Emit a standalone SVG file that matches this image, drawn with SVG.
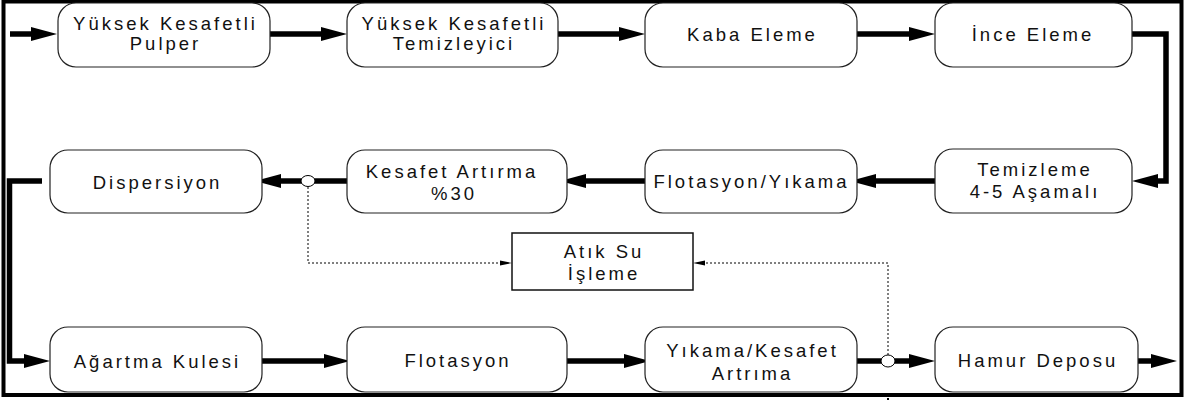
<svg xmlns="http://www.w3.org/2000/svg" width="1188" height="403" viewBox="0 0 1188 403">
<style>
.box{fill:#fff;stroke:#222;stroke-width:1.2}
.sq{fill:#fff;stroke:#111;stroke-width:1.5}
text{font-family:"Liberation Sans",Arial,sans-serif;font-size:18.5px;letter-spacing:3px;fill:#111;text-anchor:middle}
.thick{fill:none;stroke:#000;stroke-width:5.5}
.dot{fill:none;stroke:#000;stroke-width:1;stroke-dasharray:2 2}
.junc{fill:#fff;stroke:#000;stroke-width:1}
</style>
<defs>
<marker id="ah" markerUnits="userSpaceOnUse" markerWidth="26" markerHeight="14" refX="2" refY="7" orient="auto" overflow="visible"><path d="M0,0 L26,7 L0,14 z" fill="#000"/></marker>
<marker id="sh" markerUnits="userSpaceOnUse" markerWidth="12" markerHeight="5" refX="1" refY="2.5" orient="auto" overflow="visible"><path d="M0,0 L12,2.5 L0,5 z" fill="#000"/></marker>
</defs>
<rect x="3.5" y="1.5" width="1178" height="393.5" fill="none" stroke="#000" stroke-width="4"/>
<rect x="887" y="398" width="2" height="2" fill="#000"/>
<g id="connectors">
<path class="thick" d="M10,34 H33" marker-end="url(#ah)"/>
<path class="thick" d="M270,34 H323" marker-end="url(#ah)"/>
<path class="thick" d="M558,34 H621" marker-end="url(#ah)"/>
<path class="thick" d="M857,34 H911" marker-end="url(#ah)"/>
<path class="thick" d="M1132,34 H1166 V181 H1156" marker-end="url(#ah)"/>
<path class="thick" d="M935,181 H874" marker-end="url(#ah)"/>
<path class="thick" d="M645,181 H584" marker-end="url(#ah)"/>
<path class="thick" d="M347,181 H279" marker-end="url(#ah)"/>
<path class="thick" d="M42,181 H9.5 V361 H26" marker-end="url(#ah)"/>
<path class="thick" d="M262,361 H326" marker-end="url(#ah)"/>
<path class="thick" d="M567,361 H626" marker-end="url(#ah)"/>
<path class="thick" d="M857,361 H911" marker-end="url(#ah)"/>
<path class="thick" d="M1138,361 H1153" marker-end="url(#ah)"/>
<path class="dot" d="M308,187 V263 H501" marker-end="url(#sh)"/>
<path class="dot" d="M888,355 V263 H704" marker-end="url(#sh)"/>
<ellipse class="junc" cx="308" cy="181" rx="7" ry="5.5"/>
<ellipse class="junc" cx="888" cy="361" rx="7" ry="6"/>
</g>
<g id="n1"><rect class="box" x="58" y="3" width="212" height="64" rx="18"/><text x="165.5" y="29.5">Yüksek Kesafetli</text><text x="165.5" y="50">Pulper</text></g>
<g id="n2"><rect class="box" x="347" y="3" width="211" height="64" rx="18"/><text x="454" y="29.5">Yüksek Kesafetli</text><text x="454" y="49.5">Temizleyici</text></g>
<g id="n3"><rect class="box" x="645" y="3" width="212" height="64" rx="18"/><text x="752.5" y="41">Kaba Eleme</text></g>
<g id="n4"><rect class="box" x="935" y="3" width="197" height="64" rx="18"/><text x="1033" y="41">İnce Eleme</text></g>
<g id="n5"><rect class="box" x="935" y="149" width="197" height="64" rx="18"/><text x="1035" y="176">Temizleme</text><text x="1035" y="198">4-5 Aşamalı</text></g>
<g id="n6"><rect class="box" x="645" y="150" width="212" height="63" rx="18"/><text x="751.5" y="188">Flotasyon/Yıkama</text></g>
<g id="n7"><rect class="box" x="347" y="150" width="220" height="63" rx="18"/><text x="452" y="178">Kesafet Artırma</text><text x="454" y="200">%30</text></g>
<g id="n8"><rect class="box" x="50" y="150" width="212" height="63" rx="18"/><text x="157.5" y="189">Dispersiyon</text></g>
<g id="n13"><rect class="sq" x="512" y="233" width="181" height="57"/><text x="604" y="258">Atık Su</text><text x="604" y="280">İşleme</text></g>
<g id="n9"><rect class="box" x="50" y="327" width="212" height="65" rx="18"/><text x="157.5" y="368">Ağartma Kulesi</text></g>
<g id="n10"><rect class="box" x="347" y="327" width="220" height="65" rx="18"/><text x="458" y="367">Flotasyon</text></g>
<g id="n11"><rect class="box" x="645" y="327" width="212" height="65" rx="18"/><text x="752.5" y="357">Yıkama/Kesafet</text><text x="752.5" y="380">Artrıma</text></g>
<g id="n12"><rect class="box" x="935" y="327" width="203" height="65" rx="18"/><text x="1038" y="367">Hamur Deposu</text></g>
</svg>
